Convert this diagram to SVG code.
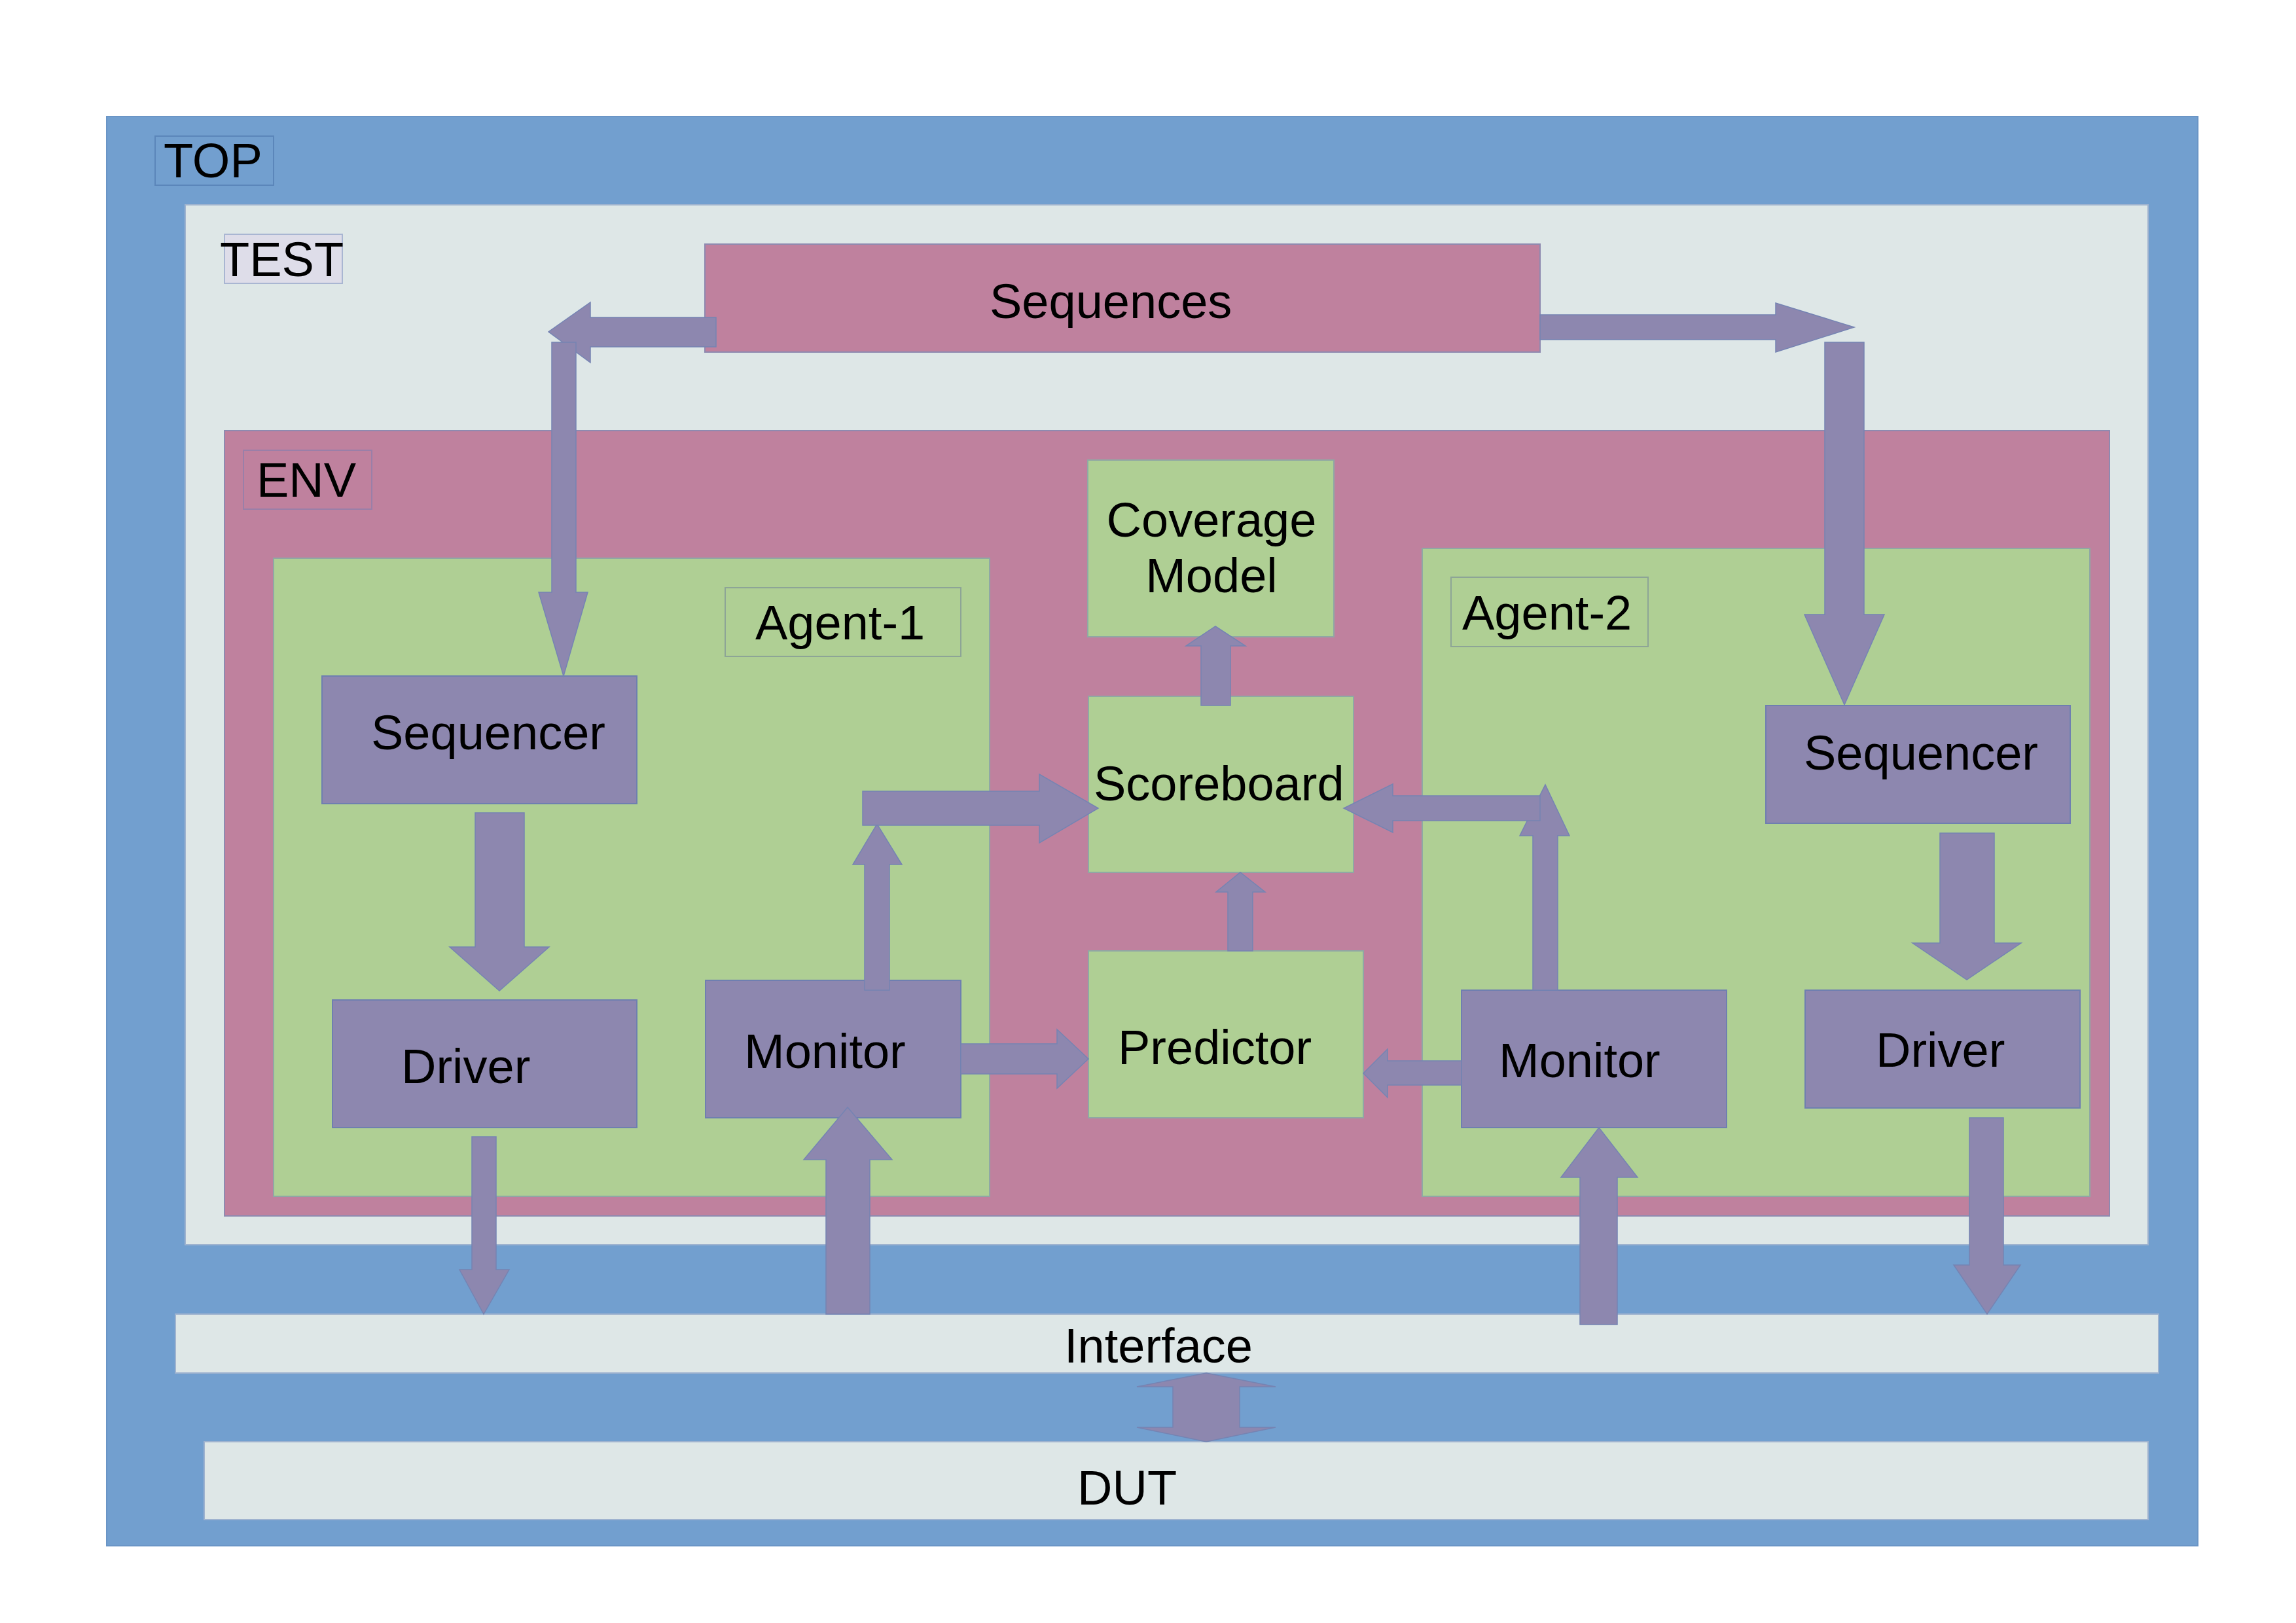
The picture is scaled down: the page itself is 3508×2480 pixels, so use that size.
<svg xmlns="http://www.w3.org/2000/svg" width="3508" height="2480" viewBox="0 0 3508 2480">
<style>
text{font-family:"Liberation Sans",Arial,sans-serif;font-size:74px;fill:#000}
.top{fill:#729fcf;stroke:#6a95c6;stroke-width:2}
.pale{fill:#dee7e7;stroke:#9fb3cf;stroke-width:2}
.env{fill:#bf819e;stroke:#8e8ab0;stroke-width:2}
.grn{fill:#afcf94;stroke:#8fa8a4;stroke-width:2}
.pur{fill:#8d87af;stroke:#6f7fb0;stroke-width:2}
.lbl-top{fill:#729fcf;stroke:#5b86ba;stroke-width:2}
.lbl-test{fill:#dedde9;stroke:#a9b6d2;stroke-width:2}
.lbl-env{fill:#bf819e;stroke:#9a7fa8;stroke-width:2}
.lbl-grn{fill:#afcf94;stroke:#8da596;stroke-width:2}
.arr{fill:#8d87af;stroke:#7584b3;stroke-width:1.5;stroke-linejoin:miter}
</style>
<rect width="3508" height="2480" fill="#ffffff"/>
<g id="top">
<rect class="top" x="163" y="178" width="3195" height="2184"/>
<rect class="lbl-top" x="237" y="208" width="181" height="75"/>
<text x="250" y="271">TOP</text>
</g>
<g id="test">
<rect class="pale" x="283" y="313" width="2999" height="1589"/>
<rect class="lbl-test" x="343" y="358" width="180" height="75"/>
<text x="336" y="422">TEST</text>
</g>
<g id="sequences">
<rect class="env" x="1077" y="373" width="1276" height="165"/>
<text x="1512" y="486">Sequences</text>
</g>
<g id="env">
<rect class="env" x="343" y="658" width="2880" height="1200"/>
<rect class="lbl-env" x="372" y="688" width="196" height="90"/>
<text x="392" y="759">ENV</text>
</g>
<g id="agent-1">
<rect class="grn" x="418" y="853" width="1094" height="975"/>
<rect class="lbl-grn" x="1108" y="898" width="360" height="105"/>
<text x="1154" y="977">Agent-1</text>
</g>
<g id="agent-2">
<rect class="grn" x="2173" y="838" width="1020" height="990"/>
<rect class="lbl-grn" x="2217" y="882" width="301" height="106"/>
<text x="2234" y="962">Agent-2</text>
</g>
<g id="coverage-model">
<rect class="grn" x="1662" y="703" width="376" height="270"/>
<text x="1851" y="820" text-anchor="middle">Coverage</text>
<text x="1851" y="905" text-anchor="middle">Model</text>
</g>
<g id="scoreboard">
<rect class="grn" x="1663" y="1064" width="405" height="269"/>
<text x="1671" y="1223">Scoreboard</text>
</g>
<g id="predictor">
<rect class="grn" x="1663" y="1453" width="420" height="255"/>
<text x="1708" y="1626">Predictor</text>
</g>
<g id="sequencer-1">
<rect class="pur" x="492" y="1033" width="481" height="195"/>
<text x="567" y="1145">Sequencer</text>
</g>
<g id="driver-1">
<rect class="pur" x="508" y="1528" width="465" height="195"/>
<text x="613" y="1655">Driver</text>
</g>
<g id="monitor-1">
<rect class="pur" x="1078" y="1498" width="390" height="210"/>
<text x="1137" y="1632">Monitor</text>
</g>
<g id="sequencer-2">
<rect class="pur" x="2698" y="1078" width="465" height="180"/>
<text x="2756" y="1176">Sequencer</text>
</g>
<g id="driver-2">
<rect class="pur" x="2758" y="1513" width="420" height="180"/>
<text x="2866" y="1630">Driver</text>
</g>
<g id="monitor-2">
<rect class="pur" x="2233" y="1513" width="405" height="210"/>
<text x="2290" y="1646">Monitor</text>
</g>
<g id="interface">
<rect class="pale" x="268" y="2008" width="3030" height="90"/>
<text x="1626" y="2082">Interface</text>
</g>
<g id="dut">
<rect class="pale" x="312" y="2203" width="2970" height="119"/>
<text x="1646" y="2299">DUT</text>
</g>
<g id="connectors">
<polygon class="arr" points="1094,485 902,485 902,462 838,507 902,554 902,530 1094,530"/>
<polygon class="arr" points="843,523 880,523 880,905 898,905 861,1033 823,905 843,905"/>
<polygon class="arr" points="2353,481 2713,481 2713,463 2833,500 2713,538 2713,519 2353,519"/>
<polygon class="arr" points="2788,523 2848,523 2848,939 2879,939 2818,1077 2757,939 2788,939"/>
<polygon class="arr" points="726,1242 801,1242 801,1447 839,1447 763,1514 687,1447 726,1447"/>
<polygon class="arr" points="2964,1273 3047,1273 3047,1441 3088,1441 3005,1497 2922,1441 2964,1441"/>
<polygon class="arr" points="1835,1078 1880,1078 1880,987 1903,987 1857,957 1812,987 1835,987"/>
<polygon class="arr" points="1876,1453 1914,1453 1914,1363 1933,1363 1895,1333 1858,1363 1876,1363"/>
<polygon class="arr" points="1321,1513 1359,1513 1359,1321 1378,1321 1340,1259 1303,1321 1321,1321"/>
<polygon class="arr" points="1318,1209 1588,1209 1588,1183 1678,1235 1588,1288 1588,1261 1318,1261"/>
<polygon class="arr" points="2342,1513 2380,1513 2380,1277 2398,1277 2361,1199 2322,1277 2342,1277"/>
<polygon class="arr" points="2353,1216 2128,1216 2128,1198 2053,1235 2128,1272 2128,1254 2353,1254"/>
<polygon class="arr" points="1468,1595 1615,1595 1615,1573 1663,1618 1615,1663 1615,1641 1468,1641"/>
<polygon class="arr" points="2233,1621 2120,1621 2120,1603 2083,1640 2120,1677 2120,1658 2233,1658"/>
<polygon class="arr" points="721,1737 758,1737 758,1940 778,1940 739,2008 702,1940 721,1940"/>
<polygon class="arr" points="1262,2008 1329,2008 1329,1772 1363,1772 1295,1692 1228,1772 1262,1772"/>
<polygon class="arr" points="2414,2024 2471,2024 2471,1799 2502,1799 2443,1723 2385,1799 2414,1799"/>
<polygon class="arr" points="3009,1708 3061,1708 3061,1933 3087,1933 3036,2008 2985,1933 3009,1933"/>
<polygon class="arr" points="1843,2098 1949,2119 1894,2119 1894,2181 1949,2181 1843,2203 1737,2181 1792,2181 1792,2119 1737,2119"/>
</g>
</svg>
